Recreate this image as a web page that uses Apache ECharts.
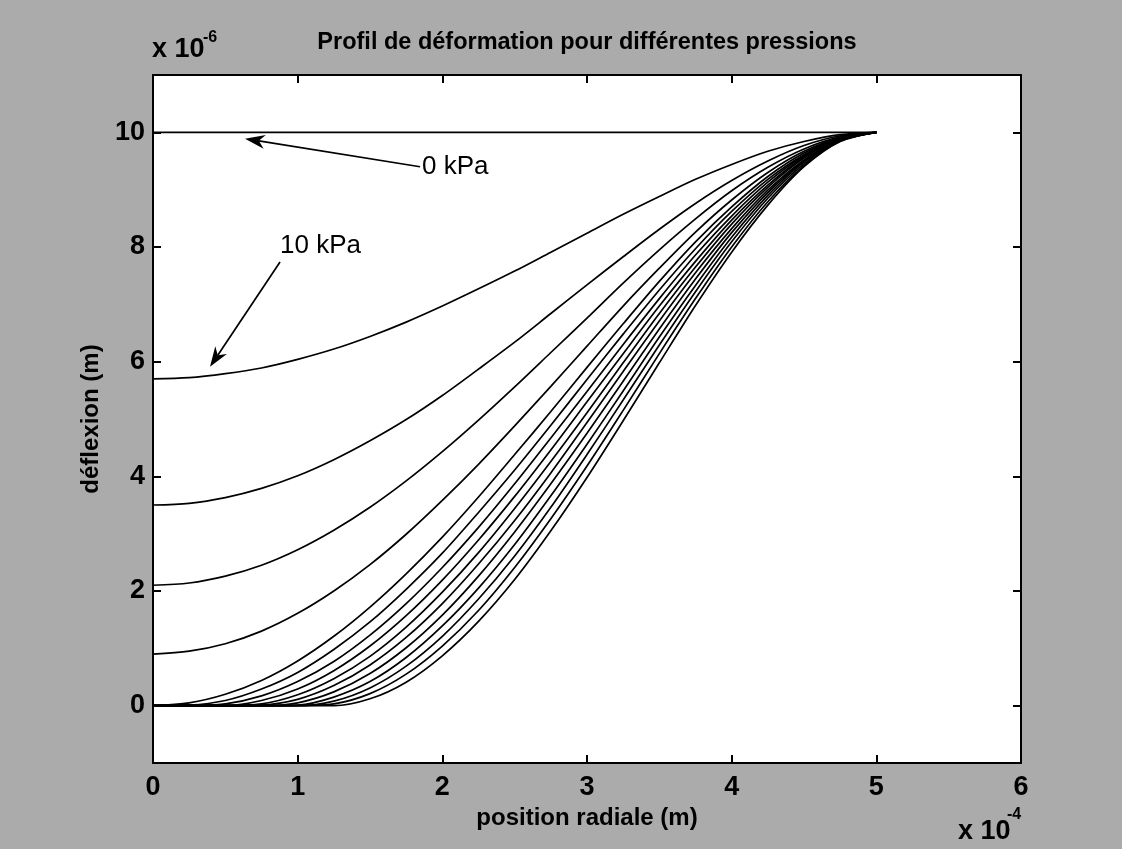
<!DOCTYPE html>
<html><head><meta charset="utf-8">
<script src="https://cdn.jsdelivr.net/npm/echarts@6/dist/echarts.min.js"></script>
<style>html,body{margin:0;padding:0;background:#ababab}#c{width:1122px;height:849px}</style>
</head><body><div id="c"></div>
<script>
// radial position, in units of 1e-4 m
const radialPos = [0,0.25,0.5,0.75,1,1.25,1.5,1.75,2,2.25,2.5,2.75,3,3.25,3.5,3.75,4,4.25,4.5,4.75,5];
// deflection profiles, in units of 1e-6 m, one per pressure
const p000 = [10,10,10,10,10,10,10,10,10,10,10,10,10,10,10,10,10,10,10,10,10];
const p010 = [5.70,5.72,5.79,5.89,6.04,6.22,6.44,6.69,6.97,7.27,7.58,7.91,8.24,8.57,8.88,9.18,9.44,9.67,9.84,9.96,10];
const p020 = [3.50,3.53,3.63,3.79,4.01,4.29,4.62,4.99,5.41,5.87,6.34,6.84,7.34,7.83,8.31,8.76,9.16,9.50,9.77,9.94,10];
const p030 = [2.10,2.14,2.26,2.45,2.72,3.06,3.46,3.92,4.43,4.98,5.56,6.16,6.76,7.37,7.95,8.49,8.98,9.39,9.71,9.92,10];
const p040 = [0.90,0.95,1.08,1.30,1.61,2.00,2.46,2.99,3.58,4.21,4.88,5.57,6.27,6.97,7.63,8.26,8.82,9.30,9.67,9.91,10];
const p050 = [0,0.05,0.20,0.44,0.78,1.21,1.72,2.30,2.94,3.64,4.38,5.13,5.90,6.66,7.40,8.09,8.70,9.23,9.64,9.90,10];
const p060 = [0,0.01,0.09,0.29,0.58,0.98,1.46,2.03,2.66,3.37,4.11,4.89,5.69,6.48,7.25,7.97,8.62,9.18,9.61,9.90,10];
const p070 = [0,0,0.03,0.17,0.42,0.77,1.23,1.78,2.41,3.11,3.87,4.67,5.48,6.30,7.10,7.86,8.54,9.13,9.59,9.89,10];
const p080 = [0,0,0,0.09,0.29,0.61,1.04,1.57,2.19,2.89,3.65,4.46,5.30,6.14,6.97,7.75,8.47,9.08,9.57,9.89,10];
const p090 = [0,0,0,0.03,0.19,0.47,0.86,1.37,1.98,2.67,3.44,4.26,5.11,5.98,6.84,7.65,8.40,9.04,9.55,9.88,10];
const p100 = [0,0,0,0.01,0.11,0.35,0.71,1.19,1.78,2.47,3.23,4.06,4.94,5.83,6.71,7.55,8.32,8.99,9.52,9.87,10];
const p110 = [0,0,0,0,0.05,0.24,0.56,1.01,1.58,2.26,3.03,3.87,4.75,5.66,6.57,7.44,8.25,8.95,9.50,9.87,10];
const p120 = [0,0,0,0,0.01,0.15,0.42,0.84,1.39,2.05,2.81,3.66,4.56,5.49,6.43,7.33,8.17,8.90,9.48,9.86,10];
const p130 = [0,0,0,0,0,0.08,0.31,0.69,1.21,1.86,2.61,3.46,4.38,5.33,6.29,7.22,8.09,8.85,9.45,9.85,10];
const p140 = [0,0,0,0,0,0.03,0.21,0.55,1.04,1.66,2.41,3.26,4.18,5.15,6.14,7.10,8.00,8.79,9.42,9.85,10];
const p150 = [0,0,0,0,0,0,0.12,0.41,0.87,1.47,2.20,3.05,3.98,4.97,5.98,6.98,7.91,8.73,9.40,9.84,10];
const curves = [p000,p010,p020,p030,p040,p050,p060,p070,p080,p090,p100,p110,p120,p130,p140,p150];
const pressureNames = ['0 kPa','10 kPa','20 kPa','30 kPa','40 kPa','50 kPa','60 kPa','70 kPa','80 kPa','90 kPa','100 kPa','110 kPa','120 kPa','130 kPa','140 kPa','150 kPa'];
const yTickValues = [0,2,4,6,8,10];
const titleText = 'Profil de déformation pour différentes pressions';
const xName = 'position radiale (m)';
const yName = 'déflexion (m)';
const xMultiplier = ['x 10', '-4'];
const yMultiplier = ['x 10', '-6'];
// annotation arrows: tail, head (data coords), label anchor
const annotations = [
  {text: '0 kPa',  tail: [1.846, 9.40], head: [0.636, 9.89], label: [1.86, 9.40]},
  {text: '10 kPa', tail: [0.878, 7.74], head: [0.394, 5.91], label: [0.878, 8.02]}
];

const FONT = "'Liberation Sans', Arial, sans-serif";
const chart = echarts.init(document.getElementById('c'), null, {renderer: 'canvas'});
const boxLine = {show: true, onZero: false, lineStyle: {color: '#000', width: 2}};
const tickIn = {show: true, inside: true, length: 8, lineStyle: {color: '#000', width: 2}};
const labelStyle = {color: '#000', fontFamily: FONT, fontSize: 27, fontWeight: 'bold'};

chart.setOption({
  animation: false,
  backgroundColor: '#ababab',
  grid: {left: 153, right: 101, top: 75, bottom: 86, show: true, backgroundColor: '#ffffff', borderWidth: 0, containLabel: false},
  xAxis: [
    {type: 'value', min: 0, max: 6, interval: 1, position: 'bottom', axisLine: boxLine, axisTick: tickIn,
     splitLine: {show: false}, axisLabel: Object.assign({margin: 11}, labelStyle),
     name: xName, nameLocation: 'middle', nameGap: 38,
     nameTextStyle: {color: '#000', fontFamily: FONT, fontSize: 24, fontWeight: 'bold'}},
    {type: 'value', min: 0, max: 6, interval: 1, position: 'top', axisLine: boxLine, axisTick: tickIn,
     splitLine: {show: false}, axisLabel: {show: false}}
  ],
  yAxis: [
    {type: 'value', min: -1, max: 11, position: 'left', axisLine: boxLine,
     axisTick: Object.assign({customValues: yTickValues}, tickIn),
     splitLine: {show: false}, axisLabel: Object.assign({margin: 8, customValues: yTickValues}, labelStyle),
     name: yName, nameLocation: 'middle', nameGap: 50,
     nameTextStyle: {color: '#000', fontFamily: FONT, fontSize: 24, fontWeight: 'bold'}},
    {type: 'value', min: -1, max: 11, position: 'right', axisLine: boxLine,
     axisTick: Object.assign({customValues: yTickValues}, tickIn),
     splitLine: {show: false}, axisLabel: {show: false}}
  ],
  series: curves.map((c, i) => ({
    type: 'line', name: pressureNames[i], silent: true, showSymbol: false, symbol: 'none',
    xAxisIndex: 0, yAxisIndex: 0, clip: true, smooth: 0.3,
    lineStyle: {color: '#000', width: 1.7},
    data: c.map((v, j) => [radialPos[j], v])
  }))
});

function buildGraphics() {
  const g = [];
  g.push({type: 'text', x: 587, y: 43, z: 100, style: {text: titleText, fill: '#000', font: 'bold 23.5px ' + FONT, align: 'center', verticalAlign: 'middle'}});
  g.push({type: 'text', x: 152, y: 50, z: 100, style: {text: yMultiplier[0], fill: '#000', font: 'bold 27px ' + FONT, align: 'left', verticalAlign: 'middle'}});
  g.push({type: 'text', x: 203, y: 38, z: 100, style: {text: yMultiplier[1], fill: '#000', font: 'bold 16px ' + FONT, align: 'left', verticalAlign: 'middle'}});
  g.push({type: 'text', x: 958, y: 832, z: 100, style: {text: xMultiplier[0], fill: '#000', font: 'bold 27px ' + FONT, align: 'left', verticalAlign: 'middle'}});
  g.push({type: 'text', x: 1007, y: 815, z: 100, style: {text: xMultiplier[1], fill: '#000', font: 'bold 16px ' + FONT, align: 'left', verticalAlign: 'middle'}});
  annotations.forEach(a => {
    const t = chart.convertToPixel({xAxisIndex: 0, yAxisIndex: 0}, a.tail);
    const h = chart.convertToPixel({xAxisIndex: 0, yAxisIndex: 0}, a.head);
    const l = chart.convertToPixel({xAxisIndex: 0, yAxisIndex: 0}, a.label);
    const dx = h[0] - t[0], dy = h[1] - t[1];
    const len = Math.hypot(dx, dy), ux = dx / len, uy = dy / len;
    const hl = 20, hw = 7;
    const bx = h[0] - ux * hl, by = h[1] - uy * hl;
    const nx = h[0] - ux * hl * 0.7, ny = h[1] - uy * hl * 0.7;
    g.push({type: 'line', z: 100, shape: {x1: t[0], y1: t[1], x2: nx, y2: ny}, style: {stroke: '#000', lineWidth: 1.7}});
    g.push({type: 'polygon', z: 100, shape: {points: [[h[0], h[1]], [bx - uy * hw, by + ux * hw], [nx, ny], [bx + uy * hw, by - ux * hw]]}, style: {fill: '#000'}});
    g.push({type: 'text', x: l[0], y: l[1], z: 100, style: {text: a.text, fill: '#000', font: '26px ' + FONT, align: 'left', verticalAlign: 'middle'}});
  });
  return g;
}
chart.setOption({graphic: buildGraphics()});
</script>
</body></html>
